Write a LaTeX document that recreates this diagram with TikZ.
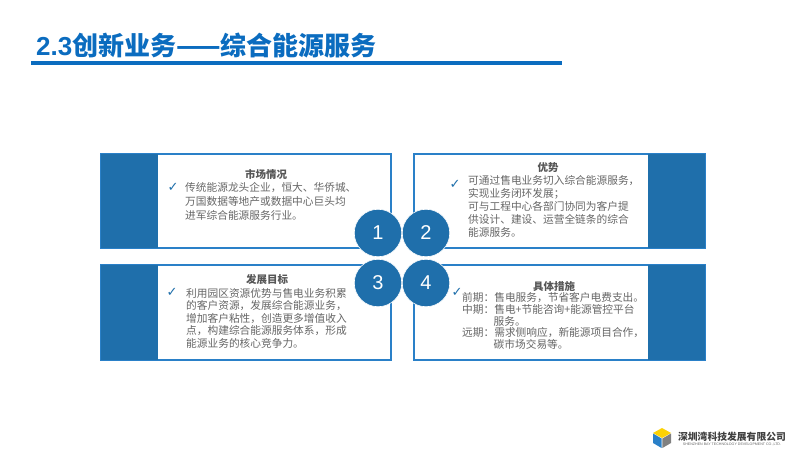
\documentclass[tikz,border=0pt]{standalone}
\usepackage{fontspec}
\setmainfont{Noto Sans CJK SC}
\newfontfamily\latinfont{Liberation Sans}
\newfontfamily\checkfont{DejaVu Sans}
\definecolor{panelblue}{HTML}{1F6FAB}
\definecolor{edgeblue}{HTML}{2A80C8}
\definecolor{titleblue}{HTML}{0B6CBF}
\definecolor{bodygray}{HTML}{666666}
\tikzset{
    headtext/.style={font=\fontsize{10.5}{12}\selectfont\bfseries, text=bodygray!85!black, inner sep=0pt},
    bodytext/.style={font=\fontsize{10.7}{#1}\selectfont, text=bodygray, align=left, anchor=west, inner sep=0pt},
    tickmark/.style={font=\fontsize{13}{14}\checkfont, text=panelblue, inner sep=0pt},
    numdot/.style={circle, fill=panelblue, draw=white, line width=0.6pt, minimum size=47.5pt, inner sep=0pt, text=white, font=\fontsize{20}{22}\latinfont},
}

\begin{document}
\begin{tikzpicture}[x=1pt,y=-1pt]
    \useasboundingbox (0,0) rectangle (800,457);
    \node[anchor=base west, inner sep=0pt, text=titleblue, font=\fontsize{26}{28}\selectfont\bfseries] (title) at (36,55.5) {{\latinfont\bfseries 2.3}创新业务——综合能源服务};
    \coordinate (ruleL) at (31,63);
    \coordinate (ruleR) at (562,63);
    \draw[line width=4pt, titleblue] (ruleL) -- (ruleR);
    % panels: x1/y1/x2/y2, then the band
    \foreach \xa/\ya/\xb/\yb/\ba/\bb in {101/154/391/248/101/158, 414/154/705/248/648/705, 101/265/391/360/101/158, 414/265/705/360/648/705} {
        \filldraw[fill=white, draw=edgeblue, line width=1.2pt] (\xa,\ya) rectangle (\xb,\yb);
        \fill[panelblue] (\ba,\ya) rectangle (\bb,\yb);
    }
    \node[headtext] (headA) at (266,174) {市场情况};
    \node[headtext] (headB) at (548,168) {优势};
    \node[headtext] (headC) at (267,280) {发展目标};
    \node[headtext] (headD) at (554,286) {具体措施};
    \node[tickmark] (tickA) at (173,187) {✓};
    \node[tickmark] (tickB) at (455,184) {✓};
    \node[tickmark] (tickC) at (172,292) {✓};
    \node[tickmark] (tickD) at (457,292) {✓};
    \node[bodytext=13.7] (bodyA) at (185,201.5) {传统能源龙头企业，恒大、华侨城、\\万国数据等地产或数据中心巨头均\\进军综合能源服务行业。};
    \node[bodytext=12.8] (bodyB) at (468,206.5) {可通过售电业务切入综合能源服务，\\实现业务闭环发展；\\可与工程中心各部门协同为客户提\\供设计、建设、运营全链条的综合\\能源服务。};
    \node[bodytext=12.5] (bodyC) at (186,318) {利用园区资源优势与售电业务积累\\的客户资源，发展综合能源业务，\\增加客户粘性，创造更多增值收入\\点，构建综合能源服务体系，形成\\能源业务的核心竞争力。};
    \node[bodytext=11.6] (bodyD) at (462,321) {前期：售电服务，节省客户电费支出。\\中期：售电+节能咨询+能源管控平台\\\hspace*{31.5pt}服务。\\远期：需求侧响应，新能源项目合作，\\\hspace*{31.5pt}碳市场交易等。};
    \foreach \n/\x/\y in {1/378/233, 2/426/233, 3/378/283, 4/426/283} {
        \node[numdot] (dot\n) at (\x,\y) {\n};
    }
    % logo
    \fill[yellow!70!orange] (662,428) -- (671,433) -- (662,438) -- (653,433) -- cycle;
    \fill[edgeblue] (653,433.5) -- (661.6,438.5) -- (661.6,448) -- (653,443) -- cycle;
    \fill[gray] (671,433.5) -- (662.4,438.5) -- (662.4,448) -- (671,443) -- cycle;
    \node[inner sep=0pt, text=black!75, font=\fontsize{9.8}{11}\selectfont\bfseries] (company) at (732,437) {深圳湾科技发展有限公司};
    \node[inner sep=0pt, text=black!60, font=\fontsize{3.6}{4}\latinfont] (companyen) at (732,444) {SHENZHEN BAY TECHNOLOGY DEVELOPMENT CO.,LTD.};
\end{tikzpicture}
\end{document}
